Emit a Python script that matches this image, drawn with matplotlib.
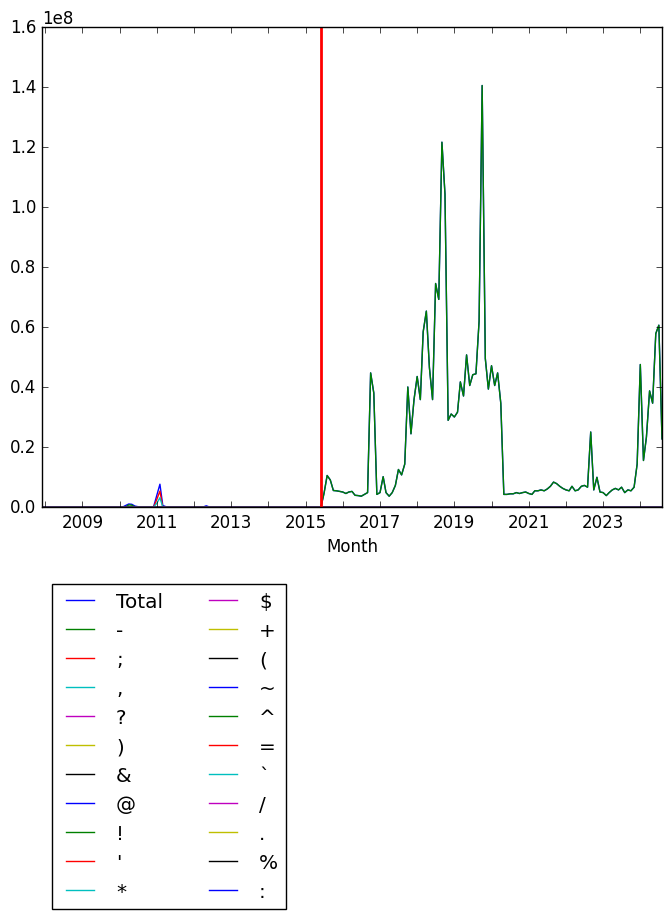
import numpy as np
import pandas as pd
import matplotlib
matplotlib.use("Agg")
from matplotlib import pyplot as plt
from matplotlib import dates as mdates
from matplotlib.ticker import FuncFormatter

# monthly periods shown on the x axis
months = pd.period_range("2007-12", "2024-08", freq="M")

labels = ["Total", "-", ";", ",", "?", ")", "&", "@", "!", "'", "*",
          "$", "+", "(", "~", "^", "=", "`", "/", ".", "%", ":"]

# values below are in units of 1e7
# "-" from 2015-06 to 2024-08
dash_start = "2015-06"
dash_values = [
    0.00, 0.45, 1.05, 0.90, 0.55, 0.54, 0.52,
    0.50, 0.45, 0.50, 0.52, 0.39, 0.38, 0.36, 0.42, 0.48, 4.47, 3.80, 0.42,
    0.48, 1.01, 0.48, 0.36, 0.48, 0.72, 1.25, 1.07, 1.43, 4.00, 2.44, 3.58,
    4.35, 3.58, 5.84, 6.53, 4.65, 3.58, 7.45, 6.92, 12.16, 10.43, 2.89, 3.10,
    3.00, 3.16, 4.17, 3.70, 5.07, 4.05, 4.41, 4.44, 6.20, 14.05, 4.95, 3.93,
    4.71, 4.05, 4.47, 3.46, 0.42, 0.42, 0.44, 0.44, 0.48, 0.45, 0.48, 0.50,
    0.45, 0.42, 0.54, 0.54, 0.57, 0.54, 0.60, 0.69, 0.83, 0.78, 0.69, 0.62,
    0.57, 0.54, 0.69, 0.54, 0.57, 0.69, 0.72, 0.66, 2.50, 0.57, 0.99, 0.50,
    0.48, 0.38, 0.48, 0.57, 0.62, 0.57, 0.66, 0.48, 0.57, 0.54, 0.66, 1.43,
    4.75, 1.55, 2.33, 3.87, 3.46, 5.78, 6.06, 2.27,
]
dash_early_start = "2010-03"
dash_early = [0.00, 0.07, 0.06, 0.00]

# "Total" early bumps (later part equals "-")
total_early_start = "2010-03"
total_early = [0.05, 0.10, 0.09, 0.03, 0.01, 0.01, 0.01, 0.01, 0.01, 0.01,
               0.38, 0.76, 0.05, 0.01]
total_2012_start = "2012-04"
total_2012 = [0.00, 0.04, 0.00]

semicolon_start = "2010-12"
semicolon_values = [0.00, 0.25, 0.53, 0.00]
comma_start = "2010-12"
comma_values = [0.00, 0.12, 0.31, 0.00]

cutoff = "2015-06"

df = pd.DataFrame(0.0, index=months, columns=labels)


def put(col, start, vals):
    i = months.get_loc(pd.Period(start, freq="M"))
    df.iloc[i:i + len(vals), df.columns.get_loc(col)] = np.array(vals) * 1e7


put("Total", total_early_start, total_early)
put("Total", total_2012_start, total_2012)
put("Total", dash_start, dash_values)
put("-", dash_early_start, dash_early)
put("-", dash_start, dash_values)
put(";", semicolon_start, semicolon_values)
put(",", comma_start, comma_values)

plt.style.use("classic")
fig = plt.figure(figsize=(6.72, 9.2), dpi=100)
ax = fig.add_axes([42 / 672, 412 / 920, 620 / 672, 480 / 920])

x = months.to_timestamp()
for col in labels:
    ax.plot(x, df[col].values, label=col)

ax.axvline(pd.Period(cutoff, freq="M").to_timestamp(), color="r", linewidth=2)

ax.set_xlim(x[0], x[-1])
ax.set_ylim(0, 1.6e8)
ax.xaxis.set_major_locator(mdates.YearLocator(1))
ax.xaxis.set_major_formatter(FuncFormatter(
    lambda v, pos: str(mdates.num2date(v).year) if mdates.num2date(v).year % 2 == 1 else ""))
ax.set_xlabel("Month")

ax.legend(loc="upper left", bbox_to_anchor=(0, -0.14), ncol=2)

fig.savefig("out.png", dpi=100)
